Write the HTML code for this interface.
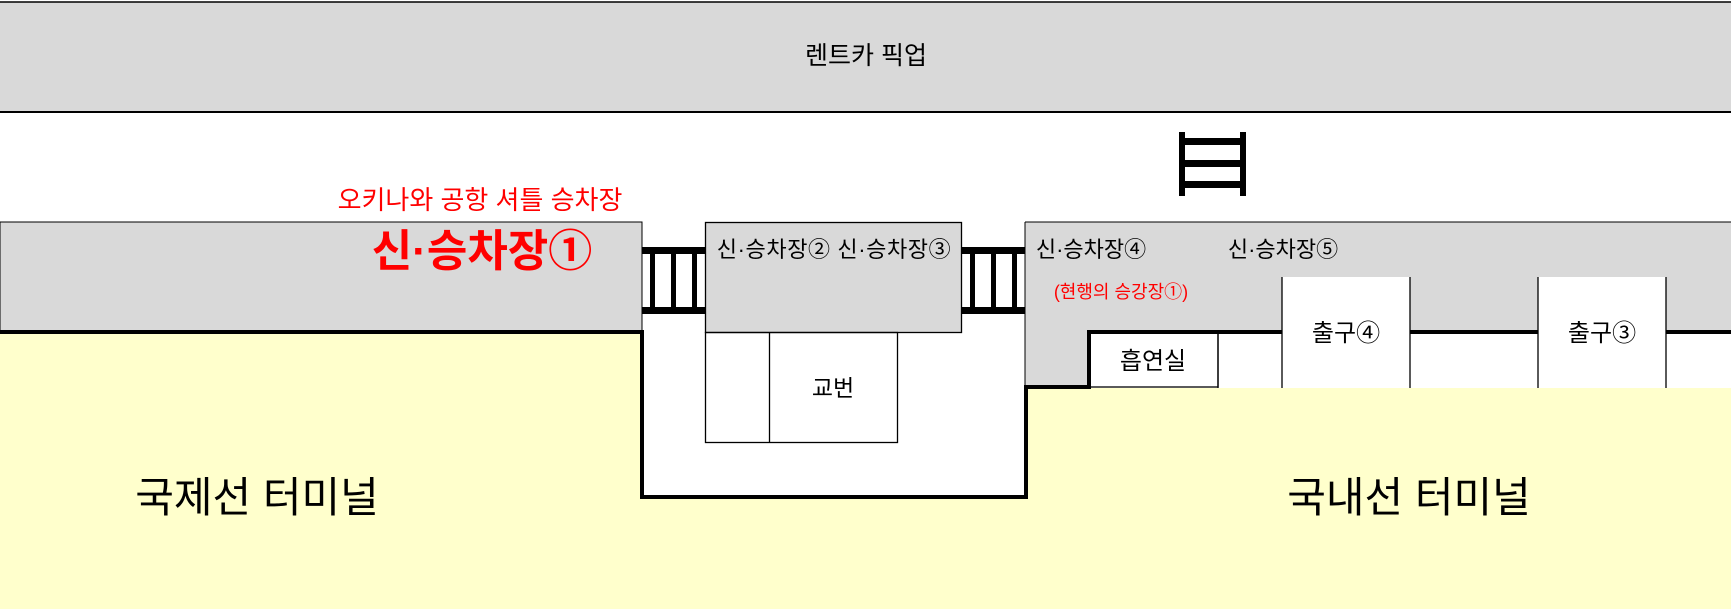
<!DOCTYPE html>
<html><head><meta charset="utf-8"><style>
html,body{margin:0;padding:0;background:#fff;}
svg{display:block;}
text{font-family:"Liberation Sans","Noto Sans CJK KR","NanumGothic",sans-serif;}
</style></head><body>
<svg width="1731" height="609" viewBox="0 0 1731 609" xmlns="http://www.w3.org/2000/svg">
<rect x="0" y="0" width="1731" height="609" fill="#fff"/>
<rect x="0" y="2" width="1731" height="110" fill="#d9d9d9"/>
<line x1="0" y1="2" x2="1731" y2="2" stroke="#000" stroke-width="1.5"/>
<line x1="0" y1="112" x2="1731" y2="112" stroke="#000" stroke-width="2"/>
<text x="866" y="64" font-size="25" text-anchor="middle" fill="#000">렌트카 픽업</text>
<rect x="1179" y="132" width="6" height="64" fill="#000"/>
<rect x="1240" y="132" width="6" height="64" fill="#000"/>
<rect x="1179" y="138" width="67" height="7" fill="#000"/>
<rect x="1179" y="160" width="67" height="7" fill="#000"/>
<rect x="1179" y="181" width="67" height="7" fill="#000"/>
<rect x="0" y="332" width="642" height="277" fill="#ffffcc"/>
<rect x="642" y="497" width="385" height="112" fill="#ffffcc"/>
<rect x="1027" y="388" width="704" height="221" fill="#ffffcc"/>
<rect x="0" y="222" width="642" height="110" fill="#d9d9d9" stroke="#000" stroke-width="1"/>
<polygon points="1025,222 1731,222 1731,332 1089,332 1089,387 1025,387" fill="#d9d9d9"/>
<line x1="1025" y1="222" x2="1731" y2="222" stroke="#000" stroke-width="1"/>
<line x1="1025" y1="222" x2="1025" y2="387" stroke="#000" stroke-width="1"/>
<rect x="642" y="247" width="63" height="7" fill="#000"/>
<rect x="642" y="307" width="63" height="7" fill="#000"/>
<rect x="650" y="247" width="5" height="67" fill="#000"/>
<rect x="671" y="247" width="5" height="67" fill="#000"/>
<rect x="692" y="247" width="5" height="67" fill="#000"/>
<rect x="962" y="247" width="63" height="7" fill="#000"/>
<rect x="962" y="307" width="63" height="7" fill="#000"/>
<rect x="970" y="247" width="5" height="67" fill="#000"/>
<rect x="991" y="247" width="5" height="67" fill="#000"/>
<rect x="1012" y="247" width="5" height="67" fill="#000"/>
<rect x="705.5" y="222.5" width="256" height="110" fill="#d9d9d9" stroke="#000" stroke-width="1.3"/>
<rect x="705.5" y="332.5" width="192" height="110" fill="none" stroke="#000" stroke-width="1.3"/>
<line x1="769.5" y1="332" x2="769.5" y2="442" stroke="#000" stroke-width="1.3"/>
<rect x="1089" y="332" width="129" height="55" fill="#fff" stroke="#000" stroke-width="1.3"/>
<rect x="1282" y="277" width="128" height="111" fill="#fff"/>
<line x1="1282" y1="277" x2="1282" y2="388" stroke="#000" stroke-width="1.3"/>
<line x1="1410" y1="277" x2="1410" y2="388" stroke="#000" stroke-width="1.3"/>
<rect x="1538" y="277" width="128" height="111" fill="#fff"/>
<line x1="1538" y1="277" x2="1538" y2="388" stroke="#000" stroke-width="1.3"/>
<line x1="1666" y1="277" x2="1666" y2="388" stroke="#000" stroke-width="1.3"/>
<line x1="1218" y1="332" x2="1218" y2="388" stroke="#000" stroke-width="1.3"/>
<polyline points="0,332 642,332 642,497 1026,497 1026,387 1089,387 1089,332 1282,332" fill="none" stroke="#000" stroke-width="4"/>
<line x1="1410" y1="332" x2="1538" y2="332" stroke="#000" stroke-width="4"/>
<line x1="1666" y1="332" x2="1731" y2="332" stroke="#000" stroke-width="4"/>
<text x="480" y="209" font-size="26" text-anchor="middle" fill="#ff0000">오키나와 공항 셔틀 승차장</text>
<text x="482" y="266" font-size="44" font-weight="bold" text-anchor="middle" fill="#ff0000">신·승차장①</text>
<text x="834" y="257" font-size="22" text-anchor="middle" fill="#000" letter-spacing="0.6">신·승차장②  신·승차장③</text>
<text x="1091" y="257" font-size="22" text-anchor="middle" fill="#000">신·승차장④</text>
<text x="1283" y="257" font-size="22" text-anchor="middle" fill="#000">신·승차장⑤</text>
<text x="1121" y="298" font-size="18" text-anchor="middle" fill="#ff0000">(현행의 승강장①)</text>
<text x="833" y="396" font-size="23" text-anchor="middle" fill="#000">교번</text>
<text x="1153" y="369" font-size="24" text-anchor="middle" fill="#000">흡연실</text>
<text x="1346" y="341" font-size="24" text-anchor="middle" fill="#000">출구④</text>
<text x="1602" y="341" font-size="24" text-anchor="middle" fill="#000">출구③</text>
<text x="257" y="512" font-size="42" text-anchor="middle" fill="#000">국제선 터미널</text>
<text x="1409" y="512" font-size="42" text-anchor="middle" fill="#000">국내선 터미널</text>
</svg>
</body></html>
